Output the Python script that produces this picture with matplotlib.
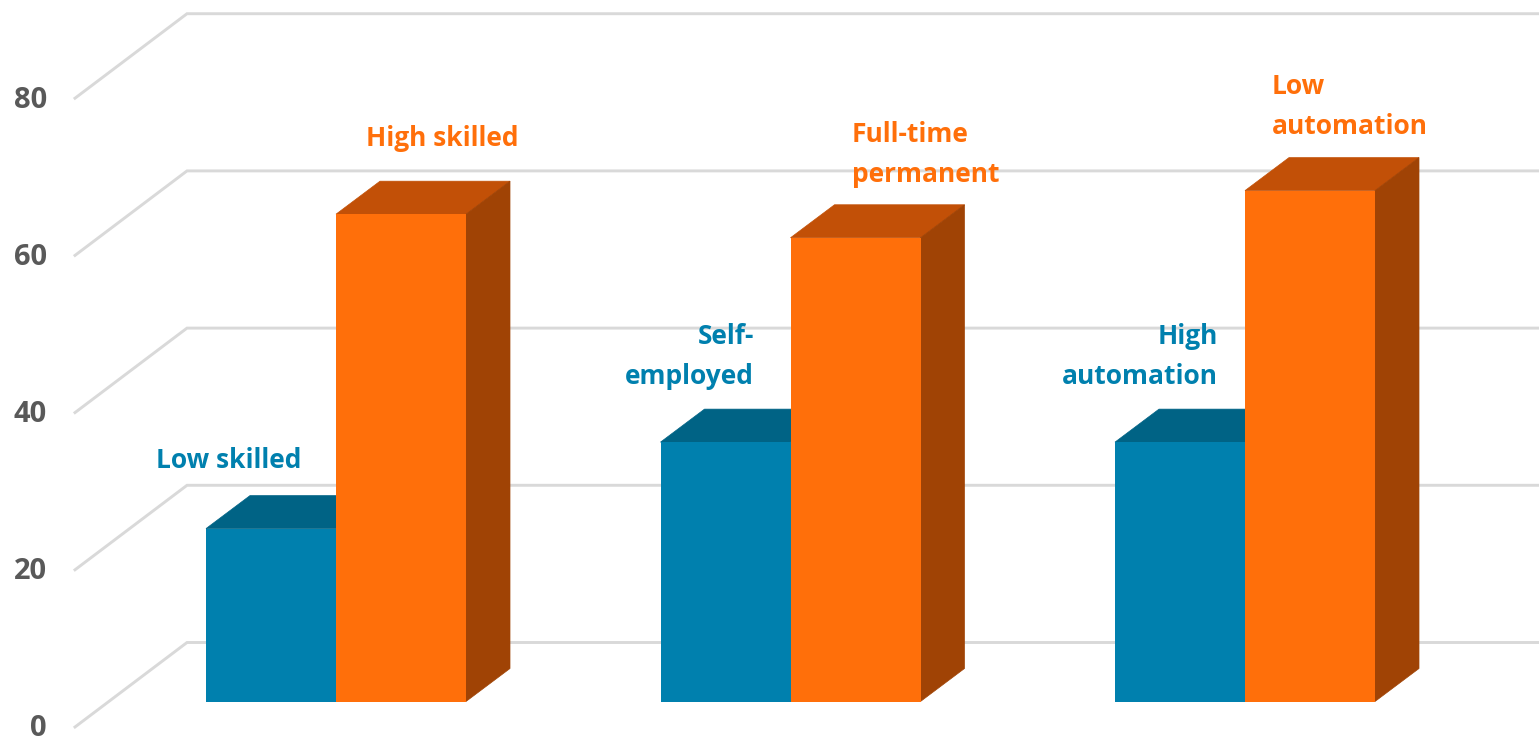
import matplotlib
matplotlib.use('Agg')
import matplotlib.pyplot as plt
import numpy as np

# Veriler
blue_values = [22, 33, 33]
orange_values = [62, 59, 65]
blue_labels = ['Low skilled', 'Self-\nemployed', 'High\nautomation']
orange_labels = ['High skilled', 'Full-time\npermanent', 'Low\nautomation']
y_ticks = [0, 20, 40, 60, 80]

BLUE, BLUE_TOP = '#0080AE', '#006385'
ORANGE, ORANGE_TOP, ORANGE_SIDE = '#FF6F0A', '#C25007', '#A04305'
GRID = '#D9D9D9'
TICK = '#595959'

plt.rcParams['font.family'] = ['Open Sans', 'DejaVu Sans']

# Olcekler: 1 kategori = 454.5 px, 1 birim = 7.86 px
X_UNIT, Y_UNIT = 454.5, 7.86
X0, Y0 = 336, 701.5
W, H = 1539, 737


def px_x(px):
    return (px - X0) / X_UNIT


def px_y(px):
    return (Y0 - px) / Y_UNIT


bar_w = 130 / X_UNIT
dx, dy = 44 / X_UNIT, 33 / Y_UNIT

fig = plt.figure(figsize=(W / 100, H / 100), dpi=100)
ax = fig.add_axes([0, 0, 1, 1])
ax.set_xlim(px_x(0), px_x(W))
ax.set_ylim(px_y(H), px_y(0))
ax.axis('off')

# Izgara: sol duvar ve arka duvar
grid_front, grid_back = -25.5 / Y_UNIT, 59 / Y_UNIT
for v in y_ticks:
    ax.plot([px_x(75), px_x(187), px_x(W)],
            [v + grid_front, v + grid_back, v + grid_back],
            color=GRID, lw=2.1, solid_joinstyle='miter', zorder=1)
    ax.text(px_x(47), v + px_y(729), str(v), color=TICK, fontsize=21,
            fontweight='bold', ha='right', va='center', zorder=5)


# 3B cubuk: on yuz + ust yuz + yan yuz
def draw_bar(x, v, front, top, side, z):
    ax.bar(x, v, bar_w, align='edge', color=front, lw=0, zorder=z + 0.2)
    ax.fill([x, x + dx, x + bar_w + dx, x + bar_w],
            [v, v + dy, v + dy, v], color=top, ec=top, lw=0.5, zorder=z)
    if side is not None:
        ax.fill([x + bar_w, x + bar_w + dx, x + bar_w + dx, x + bar_w],
                [0, dy, v + dy, v], color=side, ec=side, lw=0.5, zorder=z + 0.1)


for i in range(len(blue_values)):
    draw_bar(i - bar_w, blue_values[i], BLUE, BLUE_TOP, None, 2)
    draw_bar(i, orange_values[i], ORANGE, ORANGE_TOP, ORANGE_SIDE, 3)

# Etiketler
blue_pos = [(156, 460, 'left'), (754, 356.5, 'right'), (1218, 356.5, 'right')]
orange_pos = [(366, 138, 'left'), (852, 154.5, 'left'), (1272, 106.5, 'left')]
for labels, pos, color in [(blue_labels, blue_pos, BLUE), (orange_labels, orange_pos, ORANGE)]:
    for text, (px, py, ha) in zip(labels, pos):
        ax.text(px_x(px), px_y(py), text, color=color, fontsize=19, fontweight='bold',
                ha=ha, va='center', multialignment=ha, linespacing=1.6, zorder=6)

plt.savefig('out.png', dpi=100)
